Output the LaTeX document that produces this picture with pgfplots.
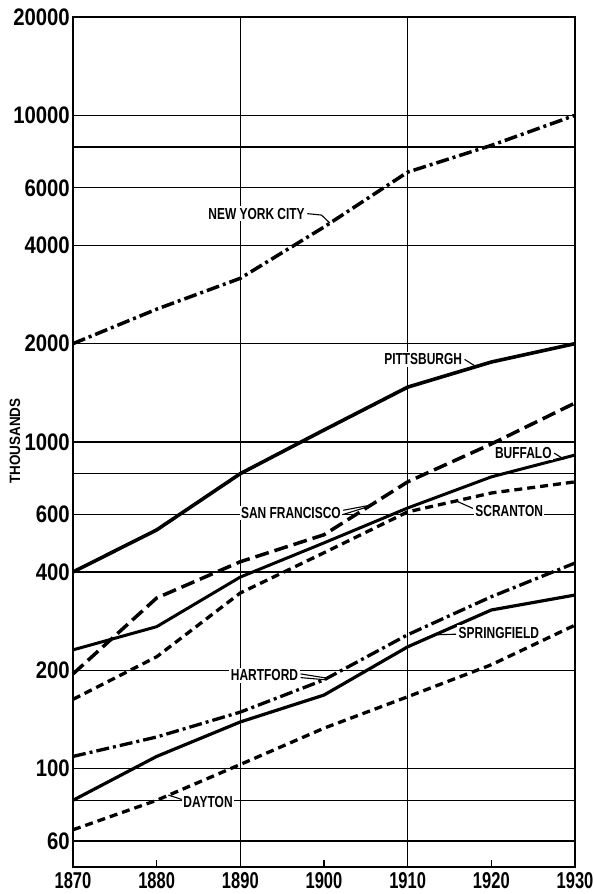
\documentclass[border=0pt]{standalone}
\usepackage{fontspec}
\setmainfont{Liberation Sans}
\newfontfamily\cond{Liberation Sans}[FakeStretch=0.75]
\newfontfamily\xtickfont{Liberation Sans}[FakeStretch=0.72]
\newfontfamily\tickfont{Liberation Sans}[FakeStretch=0.85]
\newfontfamily\semicond{Liberation Sans}[FakeStretch=0.9]
\usepackage{pgfplots}
\usepackage{pgfplotstable}
\pgfplotsset{compat=1.18}
\pgfplotstableread{
year NYC Pitt SF Buff Scr Hart Spr Day
1870 2000 400 195 231 163 109 80 65
1880 2550 538 333 272 220 125 109 80
1890 3170 800 430 386 345 149 139 103
1900 4550 1088 520 491 458 187 168 133
1910 6700 1472 755 628 611 257 236 166
1920 8090 1757 986 782 698 336 306 208
1930 10000 2000 1316 912 755 426 340 275
}\data
\begin{document}
\begin{tikzpicture}[x=1bp,y=1bp]
\path[use as bounding box] (-73,-27) rectangle (521,867);
\begin{axis}[at={(0,0)}, anchor=south west, scale only axis,
  width=502bp, height=850bp,
  xmin=1870, xmax=1930, ymin=50, ymax=20000, ymode=log,
  axis line style={line width=2.4bp},
  xtick={1870,1880,...,1930},
  xticklabels={1870,1880,1890,1900,1910,1920,1930},
  xtick pos=bottom, tick align=inside,
  x tick style={line width=1.4bp, black},
  major tick length=7bp,
  ytick={60,100,200,400,600,1000,2000,4000,6000,10000,20000},
  yticklabels={60,100,200,400,600,1000,2000,4000,6000,10000,20000},
  y tick style={draw=none},
  ymajorgrids,
  grid style={line width=1.3bp, black},
  extra y ticks={80,800,8000}, extra y tick labels={},
  extra y tick style={grid=major, tick style={draw=none}},
  extra x ticks={1890,1910}, extra x tick labels={},
  extra x tick style={grid=major},
  tick label style={font=\tickfont\bfseries\fontsize{24}{24}\selectfont, inner sep=0pt},
  xticklabel style={anchor=north, yshift=-5bp, font=\xtickfont\bfseries\fontsize{23}{23}\selectfont},
  yticklabel style={anchor=east, xshift=-3bp},
  every axis plot/.append style={black, line join=round},
  clip=false,
]
\addplot[line width=3.5bp, dash pattern=on 13bp off 4bp on 3bp off 4bp] table[x=year,y=NYC]{\data};
\addplot[line width=3.6bp] table[x=year,y=Pitt]{\data};
\addplot[line width=3.5bp, dash pattern=on 14bp off 6bp] table[x=year,y=SF]{\data};
\addplot[line width=3.0bp] table[x=year,y=Buff]{\data};
\addplot[line width=3.3bp, dash pattern=on 8bp off 5bp] table[x=year,y=Scr]{\data};
\addplot[line width=3.3bp, dash pattern=on 13bp off 4bp on 3bp off 4bp] table[x=year,y=Hart]{\data};
\addplot[line width=3.2bp] table[x=year,y=Spr]{\data};
\addplot[line width=3.3bp, dash pattern=on 8bp off 5bp] table[x=year,y=Day]{\data};

\tikzset{lab/.style={fill=white, inner sep=1.5bp, font=\cond\bfseries\fontsize{16}{16}\selectfont},
  lead/.style={line width=1.1bp}}
\node[lab, anchor=east] at (axis cs:1897.9,5000) {NEW YORK CITY};
\draw[lead] (axis cs:1898.0,5000) -- (axis cs:1899.7,4950) -- (axis cs:1900.7,4680);
\node[lab, anchor=east] at (axis cs:1916.7,1790) {PITTSBURGH};
\draw[lead] (axis cs:1916.8,1790) -- (axis cs:1918.2,1700);
\node[lab, anchor=east] at (axis cs:1927.4,925) {BUFFALO};
\draw[lead] (axis cs:1927.5,925) -- (axis cs:1928.7,885);
\node[lab, anchor=east] at (axis cs:1902.2,607) {SAN FRANCISCO};
\draw[lead] (axis cs:1902.3,618) -- (axis cs:1905.6,641);
\draw[lead] (axis cs:1902.3,600) -- (axis cs:1905.2,633);
\node[lab, anchor=west] at (axis cs:1917.9,615) {SCRANTON};
\draw[lead] (axis cs:1917.8,626) -- (axis cs:1915.8,660);
\node[lab, anchor=east] at (axis cs:1897.1,193) {HARTFORD};
\draw[lead] (axis cs:1897.2,195) -- (axis cs:1900.5,189);
\draw[lead] (axis cs:1897.2,190) -- (axis cs:1900.3,187);
\node[lab, anchor=west] at (axis cs:1915.9,261) {SPRINGFIELD};
\draw[lead] (axis cs:1915.8,258) -- (axis cs:1913.6,257);
\node[lab, anchor=west] at (axis cs:1883.0,79) {DAYTON};
\draw[lead] (axis cs:1883.0,80.5) -- (axis cs:1881.4,83);
\end{axis}
\node[rotate=90, inner sep=0pt, font=\semicond\bfseries\fontsize{15}{15}\selectfont] at (-58,426) {THOUSANDS};
\end{tikzpicture}
\end{document}
